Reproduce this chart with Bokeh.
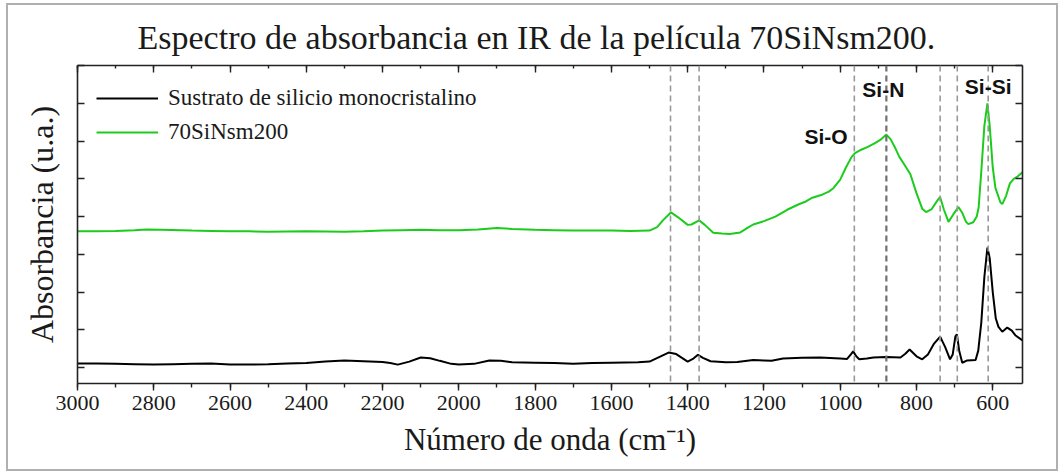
from bokeh.plotting import figure
from bokeh.models import (Range1d, LinearAxis, SingleIntervalTicker, FixedTicker,
                          Span, Label, Legend, LegendItem)
from bokeh.layouts import column
from bokeh.embed import file_html
from bokeh.resources import INLINE

# ---------------- data ----------------
wn_sub = [3000, 2950, 2900, 2850, 2800, 2750, 2700, 2650, 2600, 2550, 2500, 2450,
          2400, 2350, 2300, 2250, 2200, 2180, 2160, 2130, 2100, 2075, 2050, 2020,
          2000, 1960, 1920, 1890, 1860, 1800, 1750, 1700, 1650, 1600, 1530, 1500,
          1475, 1450, 1430, 1415, 1400, 1385, 1373, 1360, 1340, 1300, 1270, 1228,
          1200, 1180, 1150, 1100, 1053, 1000, 982, 972, 966, 958, 950, 930, 913,
          880, 842, 830, 818, 800, 785, 770, 755, 738, 725, 712, 705, 698, 694,
          688, 680, 667, 645, 638, 630, 622, 614, 608, 600, 592, 585, 575, 562,
          550, 540, 522]
abs_sub = [0.011, 0.011, 0.010, 0.009, 0.008, 0.009, 0.010, 0.011, 0.008, 0.008,
           0.009, 0.011, 0.012, 0.016, 0.019, 0.017, 0.015, 0.012, 0.008, 0.016,
           0.027, 0.025, 0.018, 0.010, 0.008, 0.010, 0.019, 0.018, 0.014, 0.013,
           0.012, 0.010, 0.012, 0.013, 0.014, 0.016, 0.028, 0.040, 0.036, 0.026,
           0.016, 0.024, 0.034, 0.026, 0.017, 0.014, 0.015, 0.020, 0.019, 0.018,
           0.024, 0.026, 0.027, 0.024, 0.023, 0.035, 0.043, 0.030, 0.022, 0.024,
           0.027, 0.028, 0.027, 0.036, 0.048, 0.030, 0.022, 0.035, 0.062, 0.082,
           0.055, 0.022, 0.035, 0.083, 0.088, 0.045, 0.013, 0.019, 0.020, 0.045,
           0.120, 0.240, 0.318, 0.290, 0.200, 0.130, 0.108, 0.095, 0.106, 0.098,
           0.085, 0.072]

wn_film = [3000, 2950, 2900, 2850, 2820, 2780, 2700, 2650, 2600, 2550, 2500, 2400,
           2300, 2250, 2200, 2150, 2100, 2050, 2000, 1950, 1900, 1860, 1800, 1750,
           1700, 1650, 1600, 1550, 1500, 1480, 1465, 1444, 1425, 1400, 1390, 1370,
           1355, 1333, 1310, 1290, 1262, 1240, 1228, 1200, 1170, 1139, 1110, 1090,
           1073, 1050, 1030, 1018, 1000, 985, 970, 961, 945, 929, 910, 895, 879,
           868, 855, 845, 834, 816, 800, 785, 775, 760, 745, 738, 728, 716, 704,
           690, 680, 670, 664, 651, 642, 637, 630, 622, 614, 608, 600, 593, 580,
           575, 565, 555, 545, 535, 522]
abs_film = [0.361, 0.361, 0.362, 0.364, 0.366, 0.365, 0.363, 0.362, 0.361, 0.361,
            0.360, 0.361, 0.360, 0.361, 0.363, 0.364, 0.365, 0.364, 0.364, 0.366,
            0.370, 0.367, 0.365, 0.364, 0.363, 0.363, 0.363, 0.362, 0.363, 0.372,
            0.390, 0.411, 0.398, 0.378, 0.379, 0.390, 0.378, 0.357, 0.355, 0.354,
            0.358, 0.372, 0.379, 0.388, 0.400, 0.418, 0.432, 0.440, 0.450, 0.457,
            0.466, 0.475, 0.498, 0.530, 0.558, 0.568, 0.577, 0.584, 0.594, 0.603,
            0.617, 0.605, 0.580, 0.558, 0.541, 0.512, 0.462, 0.421, 0.412, 0.420,
            0.443, 0.452, 0.418, 0.386, 0.405, 0.425, 0.410, 0.386, 0.380, 0.385,
            0.400, 0.424, 0.520, 0.640, 0.700, 0.640, 0.530, 0.476, 0.438, 0.433,
            0.455, 0.488, 0.500, 0.506, 0.517]

series_names = ["Sustrato de silicio monocristalino", "70SiNsm200"]
series_colors = ["#000000", "#1ccc1c"]

band_positions = [1445, 1370, 963, 879, 738, 693, 612]
band_labels = ["Si-O", "Si-N", "Si-Si"]
band_label_x = [1037, 887, 612]
band_label_y = [0.613, 0.737, 0.745]

x_ticks_interval = 200
y_ticks = [0.0, 0.1, 0.2, 0.3, 0.4, 0.5, 0.6, 0.7, 0.8]

SERIF = "Liberation Serif"
SANS = "Liberation Sans"
TXT = "#1a1a1a"

fig = figure(width=1048, height=464,
             x_range=Range1d(3000, 522), y_range=Range1d(-0.042, 0.80),
             output_backend="svg", toolbar_location=None,
             min_border_left=69, min_border_right=34,
             min_border_top=60, min_border_bottom=86,
             x_axis_location=None, y_axis_location=None)
fig.grid.visible = False
fig.outline_line_color = None
fig.background_fill_color = "white"
fig.border_fill_color = "white"

fig.title.text = "Espectro de absorbancia en IR de la película 70SiNsm200."
fig.title.align = "left"
fig.title.offset = 60
fig.title.standoff = 19
fig.title.text_font = SERIF
fig.title.text_font_size = "34px"
fig.title.text_font_style = "normal"
fig.title.text_color = TXT


def make_axis(with_labels, inside):
    ax = LinearAxis()
    ax.axis_line_color = "#222222"
    ax.axis_line_width = 1.6
    ax.major_tick_line_color = "#222222"
    ax.minor_tick_line_color = "#222222"
    ax.major_tick_line_width = 1.4
    ax.minor_tick_line_width = 1.4
    if inside:
        ax.major_tick_in, ax.major_tick_out = 7, 0
        ax.minor_tick_in, ax.minor_tick_out = 3, 0
    else:
        ax.major_tick_in, ax.major_tick_out = 0, 7
        ax.minor_tick_in, ax.minor_tick_out = 0, 4
    if not with_labels:
        ax.major_label_text_font_size = "0px"
        ax.major_label_standoff = 0
    return ax

xt = SingleIntervalTicker(interval=x_ticks_interval, num_minor_ticks=2)
yt = FixedTicker(ticks=y_ticks, minor_ticks=[])

xb = make_axis(True, False)
xb.ticker = xt
xb.major_label_text_font = SERIF
xb.major_label_text_font_style = "normal"
xb.major_label_text_font_size = "22px"
xb.major_label_text_color = TXT
xb.major_label_standoff = 5
xb.axis_label = "Número de onda (cm⁻¹)"
xb.axis_label_text_font = SERIF
xb.axis_label_text_font_size = "31px"
xb.axis_label_text_font_style = "normal"
xb.axis_label_text_color = TXT
xb.axis_label_standoff = 9
fig.add_layout(xb, "below")

xtop = make_axis(False, True)
xtop.ticker = xt
fig.add_layout(xtop, "above")

yl = make_axis(False, True)
yl.ticker = yt
yl.axis_label = "Absorbancia (u.a.)"
yl.axis_label_text_font = SERIF
yl.axis_label_text_font_size = "32px"
yl.axis_label_text_font_style = "normal"
yl.axis_label_text_color = TXT
yl.axis_label_standoff = 18
fig.add_layout(yl, "left")

yr = make_axis(False, True)
yr.ticker = yt
fig.add_layout(yr, "right")

for wpos in band_positions:
    fig.add_layout(Span(location=wpos, dimension="height",
                        line_color="#999999" if wpos != 879 else "#707070",
                        line_width=1.6 if wpos != 879 else 2.2,
                        line_dash="6 4"))

r1 = fig.line(wn_sub, abs_sub, line_color=series_colors[0], line_width=2)
r2 = fig.line(wn_film, abs_film, line_color=series_colors[1], line_width=2)

for txt, lx, ly in zip(band_labels, band_label_x, band_label_y):
    fig.add_layout(Label(x=lx, y=ly, text=txt, text_align="center",
                         text_baseline="middle", text_font=SANS,
                         text_font_style="bold", text_font_size="21px",
                         text_color="#111111"))

legend = Legend(items=[LegendItem(label=series_names[0], renderers=[r1]),
                       LegendItem(label=series_names[1], renderers=[r2])],
                location="top_left", margin=19, padding=0,
                glyph_width=62, glyph_height=28, label_height=28, spacing=6,
                label_standoff=10, border_line_color=None,
                background_fill_alpha=0,
                label_text_font=SERIF, label_text_font_style="normal",
                label_text_font_size="23px",
                label_text_color=TXT)
fig.add_layout(legend)

p = column(fig, styles={"margin-left": "6px", "margin-top": "3px",
                        "border": "2px solid #b0b0b0"})

open("out.html", "w").write(file_html(p, INLINE))
